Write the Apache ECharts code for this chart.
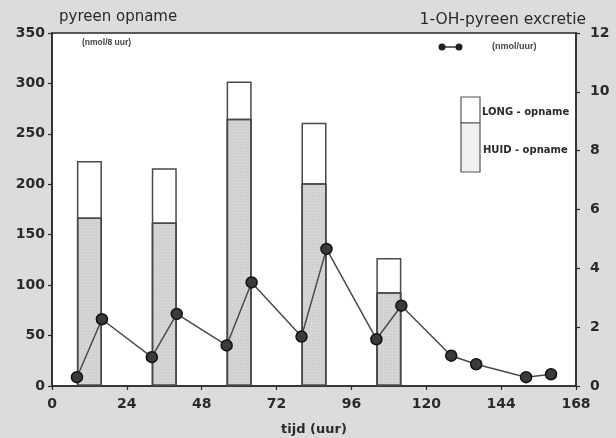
<!DOCTYPE html>
<html>
<head>
<meta charset="utf-8">
<script src="https://cdn.jsdelivr.net/npm/echarts@6/dist/echarts.min.js"></script>
<style>
  html, body { margin: 0; padding: 0; background: #dcdcdc; }
  #chart { width: 616px; height: 438px; }
</style>
</head>
<body>
<div id="chart"></div>
<script>
// opname per 8-uurs periode (midden van de periode, uur)
const periodeMidden = [12, 36, 60, 84, 108]
const huidOpname = [167, 162, 265, 201, 93]
const totaalOpname = [223, 216, 302, 261, 127]

// 1-OH-pyreen excretie (nmol/uur)
const excretieTijd = [8, 16, 32, 40, 56, 64, 80, 88, 104, 112, 128, 136, 152, 160]
const excretie = [0.3, 2.27, 0.98, 2.45, 1.38, 3.52, 1.68, 4.66, 1.59, 2.73, 1.03, 0.74, 0.3, 0.4]

const ink = '#2a2a2a'
const tickFont = '"DejaVu Sans", sans-serif'
const textFont = '"Liberation Sans", Arial, sans-serif'

const chart = echarts.init(document.getElementById('chart'))

const axisCommon = {
  axisLine: { show: true, lineStyle: { color: ink, width: 1.5 } },
  axisTick: { show: true, length: 4, lineStyle: { color: ink, width: 1.2 } },
  splitLine: { show: false },
  axisLabel: { color: ink, fontFamily: tickFont, fontWeight: 'bold', fontSize: 14 }
}

chart.setOption({
  backgroundColor: '#dcdcdc',
  animation: false,
  grid: {
    left: 52, right: 40, top: 33, bottom: 52,
    outerBoundsMode: 'none',
    containLabel: false,
    show: true,
    backgroundColor: '#ffffff',
    borderColor: ink,
    borderWidth: 1.5
  },
  xAxis: {
    type: 'value',
    min: 0,
    max: 168,
    interval: 24,
    ...axisCommon,
    axisLabel: { ...axisCommon.axisLabel, margin: 11 },
    name: 'tijd (uur)',
    nameLocation: 'middle',
    nameGap: 37,
    nameTextStyle: { color: ink, fontFamily: tickFont, fontWeight: 'bold', fontSize: 13 }
  },
  yAxis: [
    {
      type: 'value',
      min: 0,
      max: 350,
      interval: 50,
      ...axisCommon,
      axisLabel: { ...axisCommon.axisLabel, margin: 7 }
    },
    {
      type: 'value',
      min: 0,
      max: 12,
      interval: 2,
      position: 'right',
      ...axisCommon,
      axisLabel: { ...axisCommon.axisLabel, margin: 14 }
    }
  ],
  series: [
    {
      // totale opname (wit = LONG bovenop HUID)
      name: 'LONG - opname',
      type: 'bar',
      data: periodeMidden.map((t, i) => [t, totaalOpname[i]]),
      barWidth: 25,
      barGap: '-100%',
      itemStyle: { color: '#ffffff', borderColor: '#4a4a4a', borderWidth: 1.5 },
      z: 2
    },
    {
      name: 'HUID - opname',
      type: 'bar',
      data: periodeMidden.map((t, i) => [t, huidOpname[i]]),
      barWidth: 25,
      barGap: '-100%',
      itemStyle: {
        color: '#d6d6d6',
        borderColor: '#4a4a4a',
        borderWidth: 1.5,
        decal: {
          symbol: 'rect',
          symbolSize: 0.6,
          dashArrayX: [2, 1],
          dashArrayY: [2, 1],
          color: 'rgba(170,170,170,0.5)'
        }
      },
      z: 3
    },
    {
      name: 'excretie',
      type: 'line',
      yAxisIndex: 1,
      data: excretieTijd.map((t, i) => [t, excretie[i]]),
      symbol: 'circle',
      symbolSize: 11,
      lineStyle: { color: '#4a4a4a', width: 1.5 },
      itemStyle: { color: '#3a3a3a', borderColor: '#111', borderWidth: 1.5 },
      z: 5
    }
  ],
  graphic: [
    { type: 'text', left: 59, top: 10,
      style: { text: 'pyreen opname', fill: ink, font: '15px ' + tickFont } },
    { type: 'text', right: 30, top: 12,
      style: { text: '1-OH-pyreen excretie', fill: ink, font: '15.5px ' + tickFont } },
    { type: 'text', left: 82, top: 38,
      style: { text: '(nmol/8 uur)', fill: '#444', font: 'bold 8.5px ' + textFont } },
    { type: 'text', left: 492, top: 42,
      style: { text: '(nmol/uur)', fill: '#444', font: 'bold 9px ' + textFont } },
    { type: 'line', shape: { x1: 442, y1: 47, x2: 459, y2: 47 },
      style: { stroke: '#333', lineWidth: 1.5 } },
    { type: 'circle', shape: { cx: 442, cy: 47, r: 3.5 }, style: { fill: '#222' } },
    { type: 'circle', shape: { cx: 459, cy: 47, r: 3.5 }, style: { fill: '#222' } },
    { type: 'rect', shape: { x: 461, y: 97, width: 19, height: 26 },
      style: { fill: '#fff', stroke: '#555', lineWidth: 1.2 } },
    { type: 'rect', shape: { x: 461, y: 123, width: 19, height: 49 },
      style: { fill: '#f0f0f0', stroke: '#555', lineWidth: 1.2 } },
    { type: 'text', left: 482, top: 107,
      style: { text: 'LONG - opname', fill: ink, font: 'bold 10px ' + tickFont } },
    { type: 'text', left: 483, top: 145,
      style: { text: 'HUID - opname', fill: ink, font: 'bold 10px ' + tickFont } }
  ]
})
</script>
</body>
</html>
